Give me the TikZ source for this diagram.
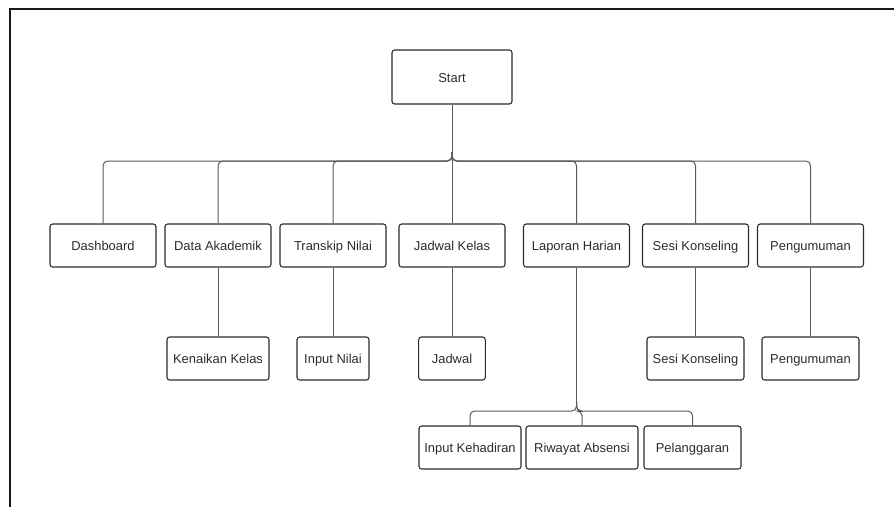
\documentclass[tikz,border=0pt]{standalone}
\usepackage{fontspec}
\setmainfont{Liberation Sans}
\usetikzlibrary{arrows.meta,calc,positioning}
\definecolor{ink}{HTML}{2B2B2B}
\definecolor{wire}{HTML}{5A5A5A}
\definecolor{rule}{HTML}{1A1A1A}

\begin{document}
\begin{tikzpicture}[x=0.75pt,y=-0.75pt,>=Latex,
  box/.style={draw=ink,rounded corners=2pt,line width=0.8pt,minimum height=32.25pt,inner xsep=3pt,
    text height=8.2pt,text depth=0pt,text=ink,font=\fontsize{9.7}{11}\selectfont},
  topbox/.style={box,minimum width=79.5pt},
  link/.style={draw=wire,line width=0.75pt,rounded corners=3.5pt}]
\useasboundingbox (0,0) rectangle (894,507);
\draw[rule,line width=1.5pt] (9.5,507) -- (9.5,9) -- (894,9);
% root
\node[box,minimum width=90pt,minimum height=40.5pt] (start) at (452,77) {Start};
\coordinate (bus0) at (452,152);
\coordinate (bus) at (452,161);
% menu utama
\node[topbox] (dash) at (103,245.5) {Dashboard};
\node[topbox] (akad) at (218,245.5) {Data Akademik};
\node[topbox] (trans) at (333,245.5) {Transkip Nilai};
\node[topbox] (jk) at (452,245.5) {Jadwal Kelas};
\node[topbox] (lh) at (576.5,245.5) {Laporan Harian};
\node[topbox] (sesi) at (695.5,245.5) {Sesi Konseling};
\node[topbox] (peng) at (810.5,245.5) {Pengumuman};
% sub menu
\node[box,minimum width=76.5pt] (naik) at (218,358.5) {Kenaikan Kelas};
\node[box,minimum width=54pt] (inil) at (333,358.5) {Input Nilai};
\node[box,minimum width=50pt] (jadwal) at (452,358.5) {Jadwal};
\node[box,minimum width=72.75pt] (sesi2) at (695.5,358.5) {Sesi Konseling};
\node[box,minimum width=72.75pt] (peng2) at (810.5,358.5) {Pengumuman};
\coordinate (sub0) at (576.5,402);
\coordinate (sub) at (576.5,411);
\node[box,minimum width=76.5pt] (hadir) at (470,447.5) {Input Kehadiran};
\node[box,minimum width=84pt] (absen) at (582,447.5) {Riwayat Absensi};
\node[box,minimum width=72.75pt] (langgar) at (692.5,447.5) {Pelanggaran};
% garis
\draw[link] (start) -- (jk);
\foreach \c in {dash,akad,trans,lh,sesi,peng}
  \draw[link] (bus0) -- (bus) -| (\c.north);
\draw[link] (akad) -- (naik);
\draw[link] (trans) -- (inil);
\draw[link] (jk) -- (jadwal);
\draw[link] (sesi) -- (sesi2);
\draw[link] (peng) -- (peng2);
\draw[link] (lh) -- (sub0);
\foreach \c in {hadir,absen,langgar}
  \draw[link] (sub0) -- (sub) -| (\c.north);
\end{tikzpicture}
\end{document}
